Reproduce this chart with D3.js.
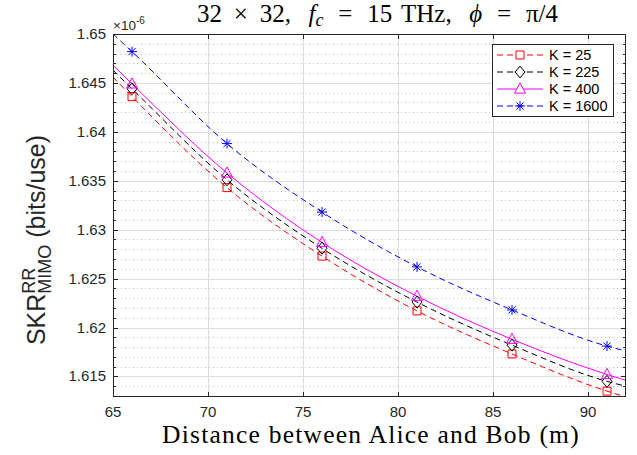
<!DOCTYPE html>
<html><head><meta charset="utf-8">
<script src="https://cdn.jsdelivr.net/npm/d3@7"></script>
<style>body{margin:0;background:#fff}svg{display:block}</style>
</head><body><svg id="c" width="637" height="455"></svg>
<script>
// ---- data (values in units of 1e-6 bits/use) ----
const distance = [65, 66, 71, 76, 81, 86, 91, 92];
const markerDistance = [66, 71, 76, 81, 86, 91];
const seriesK25   = [1.6456, 1.6436, 1.6343, 1.6273, 1.6217, 1.6173, 1.6135, 1.6129];
const seriesK225  = [1.6463, 1.6444, 1.6351, 1.6281, 1.6226, 1.6182, 1.6145, 1.6140];
const seriesK400  = [1.6468, 1.6449, 1.6358, 1.6287, 1.6232, 1.6188, 1.6152, 1.6146];
const seriesK1600 = [1.6500, 1.6482, 1.6388, 1.6318, 1.6262, 1.6218, 1.6181, 1.6176];
const seriesNames = ["K = 25", "K = 225", "K = 400", "K = 1600"];
const xTicks = [65, 70, 75, 80, 85, 90];
const xTickLabels = ["65", "70", "75", "80", "85", "90"];
const yTicks = [1.615, 1.62, 1.625, 1.63, 1.635, 1.64, 1.645, 1.65];
const yTickLabels = ["1.615", "1.62", "1.625", "1.63", "1.635", "1.64", "1.645", "1.65"];

const seriesValues = [seriesK25, seriesK225, seriesK400, seriesK1600];
const styles = [
  {color: "#ff0000", dash: "6,4", marker: "square"},
  {color: "#000000", dash: "6,4", marker: "diamond"},
  {color: "#ff00ff", dash: null, marker: "triangle"},
  {color: "#0000ff", dash: "6,4", marker: "star"}
];

const L = 113, R = 626, T = 34, B = 397;
const axisColor = "#262626";
const svg = d3.select("#c");
const allVals = seriesValues.flat();
const x = d3.scaleLinear().domain([65, 92]).range([L, R]);
const y = d3.scaleLinear().domain(d3.extent(allVals)).range([B, T]);

svg.append("rect").attr("x", 0).attr("y", 0).attr("width", 637).attr("height", 455).attr("fill", "#fff");

// minor horizontal grid (dotted)
const minorY = d3.range(1613, 1651).map(i => i / 1000)
  .filter(v => v >= y.domain()[0] && v <= y.domain()[1] && !yTicks.some(t => Math.abs(t - v) < 1e-9));
svg.append("g").selectAll("line").data(minorY).join("line")
  .attr("x1", L).attr("x2", R).attr("y1", d => Math.round(y(d)) + 0.5).attr("y2", d => Math.round(y(d)) + 0.5)
  .attr("stroke", "#c4c4c4").attr("stroke-width", 1).attr("stroke-dasharray", "1,3");
// major grid
svg.append("g").selectAll("line").data(yTicks).join("line")
  .attr("x1", L).attr("x2", R).attr("y1", d => Math.round(y(d)) + 0.5).attr("y2", d => Math.round(y(d)) + 0.5)
  .attr("stroke", "#dcdcdc").attr("stroke-width", 1);
svg.append("g").selectAll("line").data(xTicks.filter(v => v > 65)).join("line")
  .attr("y1", T).attr("y2", B).attr("x1", d => Math.round(x(d)) + 0.5).attr("x2", d => Math.round(x(d)) + 0.5)
  .attr("stroke", "#dcdcdc").attr("stroke-width", 1);

// clip
svg.append("clipPath").attr("id", "clip").append("rect").attr("x", L).attr("y", T).attr("width", R - L).attr("height", B - T);

function markerPath(type, cx, cy) {
  if (type === "square") { const s = 4; return `M${cx-s},${cy-s}H${cx+s}V${cy+s}H${cx-s}Z`; }
  if (type === "diamond") { const w = 5, h = 6; return `M${cx},${cy-h}L${cx+w},${cy}L${cx},${cy+h}L${cx-w},${cy}Z`; }
  if (type === "triangle") { const s = 5.5; return `M${cx},${cy-s*1.1}L${cx+s},${cy+s*0.75}L${cx-s},${cy+s*0.75}Z`; }
  if (type === "star") { const s = 5, d = 3.6;
    return `M${cx-s},${cy}H${cx+s}M${cx},${cy-s}V${cy+s}M${cx-d},${cy-d}L${cx+d},${cy+d}M${cx-d},${cy+d}L${cx+d},${cy-d}`; }
}

const line = d3.line().x(d => x(d[0])).y(d => y(d[1])).curve(d3.curveMonotoneX);
const plotG = svg.append("g").attr("clip-path", "url(#clip)");
seriesValues.forEach((vals, i) => {
  const st = styles[i];
  const pts = distance.map((d, j) => [d, vals[j]]);
  plotG.append("path").attr("d", line(pts)).attr("fill", "none")
    .attr("stroke", st.color).attr("stroke-width", 1)
    .attr("stroke-dasharray", st.dash);
});
seriesValues.forEach((vals, i) => {
  const st = styles[i];
  const pts = distance.map((d, j) => [d, vals[j]]).filter(p => markerDistance.includes(p[0]));
  svg.append("g").selectAll("path").data(pts).join("path")
    .attr("d", p => markerPath(st.marker, x(p[0]), y(p[1])))
    .attr("fill", "none").attr("stroke", st.color).attr("stroke-width", 1);
});

// axes box & ticks
const ax = svg.append("g").attr("stroke", axisColor).attr("stroke-width", 1).attr("fill", "none");
ax.append("rect").attr("x", L + 0.5).attr("y", T + 0.5).attr("width", R - L - 1).attr("height", B - T - 1);
xTicks.forEach(v => {
  const px = Math.round(x(v)) + 0.5;
  ax.append("line").attr("x1", px).attr("x2", px).attr("y1", B).attr("y2", B - 5);
  ax.append("line").attr("x1", px).attr("x2", px).attr("y1", T).attr("y2", T + 5);
});
yTicks.forEach(v => {
  const py = Math.round(y(v)) + 0.5;
  ax.append("line").attr("x1", L).attr("x2", L + 5).attr("y1", py).attr("y2", py);
  ax.append("line").attr("x1", R).attr("x2", R - 5).attr("y1", py).attr("y2", py);
});
minorY.forEach(v => {
  const py = Math.round(y(v)) + 0.5;
  ax.append("line").attr("x1", L).attr("x2", L + 3).attr("y1", py).attr("y2", py);
  ax.append("line").attr("x1", R).attr("x2", R - 3).attr("y1", py).attr("y2", py);
});

// tick labels
const sans = "'Liberation Sans', Arial, Helvetica, sans-serif";
svg.append("g").selectAll("text").data(xTicks).join("text")
  .attr("x", d => x(d)).attr("y", 417).attr("text-anchor", "middle")
  .attr("font-family", sans).attr("font-size", 15).attr("fill", axisColor)
  .text((d, i) => xTickLabels[i]);
svg.append("g").selectAll("text").data(yTicks).join("text")
  .attr("x", L - 7).attr("y", d => y(d) + 5).attr("text-anchor", "end")
  .attr("font-family", sans).attr("font-size", 15).attr("fill", axisColor)
  .text((d, i) => yTickLabels[i]);

// exponent
const ex = svg.append("text").attr("x", 113).attr("y", 30).attr("font-family", sans).attr("font-size", 13.5).attr("fill", axisColor);
ex.append("tspan").text("\u00d710");
ex.append("tspan").attr("dy", -6).attr("font-size", 10).text("-6");

// title: pieces laid out with math-style spacing
const serif = "'Liberation Serif', 'Times New Roman', serif";
const titlePieces = [
  {t: "32", gap: 0}, {t: "\u00d7", gap: 0.222}, {t: "32,", gap: 0.222},
  {t: "f", gap: 0.333, it: true}, {t: "c", gap: 0, it: true, sub: true},
  {t: "=", gap: 0.278}, {t: "15", gap: 0.278}, {t: "THz,", gap: 0.167},
  {t: "\u03d5", gap: 0.333, it: true}, {t: "=", gap: 0.278}, {t: "\u03c0/4", gap: 0.278}
];
const titleFs = 25;
const titleG = svg.append("g");
const tEls = titlePieces.map(p => titleG.append("text")
  .attr("y", p.sub ? 26 : 22)
  .attr("font-family", serif).attr("font-size", p.sub ? titleFs * 0.72 : titleFs)
  .attr("font-style", p.it ? "italic" : "normal").attr("fill", "#000").text(p.t));
const widths = tEls.map(e => e.node().getComputedTextLength());
const sumW = d3.sum(widths), sumGap = d3.sum(titlePieces, p => p.gap);
const gapUnit = Math.max(0, (361 - sumW) / sumGap);
let cx = 197;
tEls.forEach((e, i) => { cx += titlePieces[i].gap * gapUnit; e.attr("x", cx); cx += widths[i]; });

const xl = svg.append("text").attr("x", 371).attr("y", 443).attr("text-anchor", "middle")
  .attr("font-family", serif).attr("font-size", 25.5).attr("fill", "#000")
  .text("Distance between Alice and Bob (m)");
{
  const w = xl.node().getComputedTextLength();
  xl.attr("letter-spacing", Math.max(0, (418 - w) / 34).toFixed(2));
}

// y label
const yg = svg.append("g");
const fsY = 25;
const t1 = yg.append("text").attr("x", 0).attr("y", 0).attr("font-family", sans).attr("font-size", fsY).attr("fill", axisColor).text("SKR");
const w1 = t1.node().getComputedTextLength();
const tSup = yg.append("text").attr("x", w1).attr("y", -10).attr("font-family", sans).attr("font-size", fsY * 0.72).attr("fill", axisColor).text("RR");
const tSub = yg.append("text").attr("x", w1).attr("y", 6).attr("font-family", sans).attr("font-size", fsY * 0.72).attr("fill", axisColor).text("MIMO");
const w2 = Math.max(tSup.node().getComputedTextLength(), tSub.node().getComputedTextLength());
const t3 = yg.append("text").attr("x", w1 + w2).attr("y", 0).attr("font-family", sans).attr("font-size", fsY).attr("fill", axisColor).text("\u00a0(bits/use)");
const total = w1 + w2 + t3.node().getComputedTextLength();
yg.attr("transform", `translate(45, ${240 + total / 2}) rotate(-90)`);

// legend
const lg = svg.append("g");
lg.append("rect").attr("x", 492.5).attr("y", 44.5).attr("width", 121).attr("height", 72)
  .attr("fill", "#fff").attr("stroke", axisColor).attr("stroke-width", 1);
const rowY = [55, 72, 89, 106];
seriesNames.forEach((name, i) => {
  const st = styles[i];
  lg.append("line").attr("x1", 497).attr("x2", 543).attr("y1", rowY[i]).attr("y2", rowY[i])
    .attr("stroke", st.color).attr("stroke-width", 1).attr("stroke-dasharray", st.dash);
  lg.append("path").attr("d", markerPath(st.marker, 520, rowY[i])).attr("fill", "#fff")
    .attr("stroke", st.color).attr("stroke-width", 1);
  lg.append("text").attr("x", 549).attr("y", rowY[i] + 5).attr("font-family", sans)
    .attr("font-size", 14.5).attr("fill", "#000").text(name);
});
</script></body></html>
